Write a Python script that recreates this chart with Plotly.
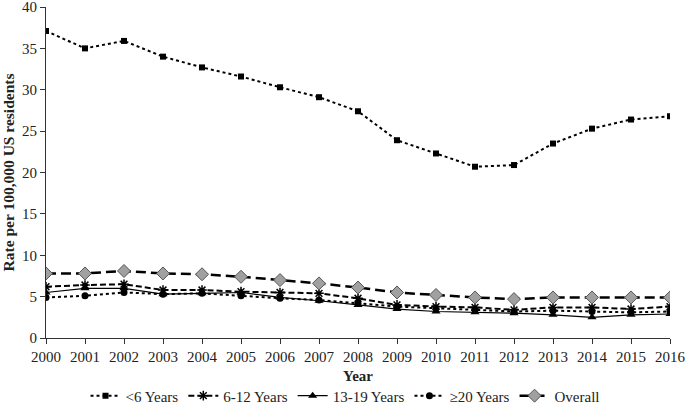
import plotly.graph_objects as go

years = list(range(2000, 2017))
under6 = [37.1, 35.0, 35.9, 34.0, 32.7, 31.6, 30.3, 29.1, 27.4, 23.9, 22.3, 20.7, 20.9, 23.5, 25.3, 26.4, 26.8]
age6_12 = [6.2, 6.4, 6.5, 5.8, 5.8, 5.6, 5.5, 5.4, 4.8, 4.0, 3.8, 3.7, 3.4, 3.7, 3.7, 3.5, 3.8]
age13_19 = [5.5, 6.0, 6.0, 5.3, 5.4, 5.5, 4.9, 4.5, 4.0, 3.5, 3.2, 3.1, 3.0, 2.8, 2.5, 2.8, 2.9]
age20plus = [4.9, 5.1, 5.5, 5.3, 5.4, 5.1, 4.8, 4.6, 4.2, 3.8, 3.6, 3.4, 3.2, 3.3, 3.2, 3.1, 3.2]
overall = [7.8, 7.8, 8.1, 7.8, 7.7, 7.4, 7.0, 6.6, 6.1, 5.5, 5.2, 4.9, 4.7, 4.9, 4.9, 4.9, 4.9]

fig = go.Figure()
fig.add_trace(go.Scatter(x=years, y=under6, name="<6 Years", mode="lines+markers",
                         line=dict(color="black", width=2, dash="dot"),
                         marker=dict(symbol="square", size=6, color="black")))
fig.add_trace(go.Scatter(x=years, y=age6_12, name="6-12 Years", mode="lines+markers",
                         line=dict(color="black", width=2, dash="6px,3px"),
                         marker=dict(symbol="asterisk", size=8, line=dict(color="black", width=1.5))))
fig.add_trace(go.Scatter(x=years, y=age13_19, name="13-19 Years", mode="lines+markers",
                         line=dict(color="black", width=1.2),
                         marker=dict(symbol="triangle-up", size=8, color="black")))
fig.add_trace(go.Scatter(x=years, y=age20plus, name="≥20 Years", mode="lines+markers",
                         line=dict(color="black", width=2, dash="dot"),
                         marker=dict(symbol="circle", size=7, color="black")))
fig.add_trace(go.Scatter(x=years, y=overall, name="Overall", mode="lines+markers",
                         line=dict(color="black", width=2.5, dash="10px,5px"),
                         marker=dict(symbol="diamond", size=10, color="#a0a0a0", line=dict(color="#555", width=1))))

fig.update_layout(
    width=685, height=405,
    margin=dict(l=46, r=15, t=7, b=67, autoexpand=False),
    paper_bgcolor="white", plot_bgcolor="white",
    font=dict(family="Liberation Serif", size=14, color="#222"),
    showlegend=True,
    legend=dict(orientation="h", x=0.48, xanchor="center", y=-0.175, yanchor="middle",
                font=dict(size=15), traceorder="normal"),
    xaxis=dict(range=[2000, 2016], tickmode="array", tickvals=years, showgrid=False,
               showline=True, linecolor="#333", ticks="outside", ticklen=5, tickcolor="#333",
               tickfont=dict(size=15), automargin=False, ticklabeloverflow="allow",
               title=dict(text="<b>Year</b>", standoff=6, font=dict(size=15)), zeroline=False),
    yaxis=dict(range=[0, 40], dtick=5, showgrid=False, showline=True, linecolor="#333",
               ticks="outside", ticklen=5, tickcolor="#333", zeroline=False,
               tickfont=dict(size=15), automargin=False, ticklabeloverflow="allow",
               title=dict(text="<b>Rate per 100,000 US residents</b>", standoff=9, font=dict(size=15.5))),
)
fig.write_html("out.html", config={"displayModeBar": False},
               post_script="document.body.style.margin='0';document.body.style.padding='0';")
